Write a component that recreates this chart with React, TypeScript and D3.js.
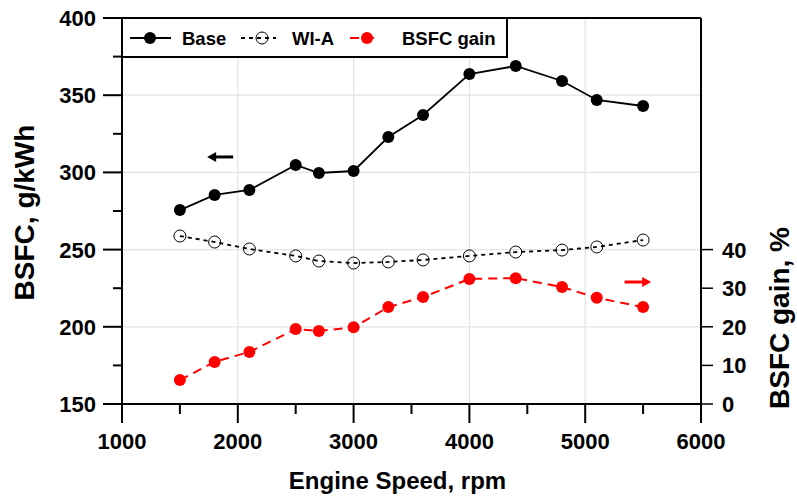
import React from "react";
import * as d3 from "d3";

const speeds = [1500, 1800, 2100, 2500, 2700, 3000, 3300, 3600, 4000, 4400, 4800, 5100, 5500];
const baseBsfc = [275.6, 285.4, 288.6, 304.8, 299.6, 300.9, 322.9, 337.2, 363.7, 368.9, 359.2, 346.9, 343.0];
const wiaBsfc = [258.8, 254.9, 250.4, 245.9, 242.6, 241.3, 242.0, 243.3, 245.9, 248.4, 249.7, 251.7, 256.2];
const bsfcGain = [6.2, 10.9, 13.5, 19.4, 18.9, 19.9, 25.1, 27.7, 32.4, 32.6, 30.3, 27.5, 25.1];

const xTicks = [1000, 2000, 3000, 4000, 5000, 6000];
const xMinor = [1500, 2500, 3500, 4500, 5500];
const yTicks = [150, 200, 250, 300, 350, 400];
const yMinor = [175, 225, 275, 325, 375];
const y2Ticks = [0, 10, 20, 30, 40];
const legendLabels = ["Base", "WI-A", "BSFC gain"];

const W = 797, H = 500;
const L = 122, R = 701, T = 18, B = 404;
const FONT = "'Liberation Sans', Arial, sans-serif";

export default function App() {
  const x = d3.scaleLinear().domain([1000, 6000]).range([L, R]);
  const y = d3.scaleLinear().domain([150, 400]).range([B, T]);
  const y2 = d3.scaleLinear().domain([0, 100]).range([B, T]);

  const baseLine = d3.line<number>().x((_, i) => x(speeds[i])).y((d) => y(d))(baseBsfc) || "";
  const wiaLine = d3.line<number>().x((_, i) => x(speeds[i])).y((d) => y(d))(wiaBsfc) || "";
  const gainLine = d3.line<number>().x((_, i) => x(speeds[i])).y((d) => y2(d))(bsfcGain) || "";

  const arrowL = { x1: x(1735), x2: x(1960), y: y(310) };
  const arrowR = { x1: x(5340), x2: x(5570), y: y2(31.6) };

  return (
    <svg width={W} height={H} style={{ display: "block", position: "absolute", left: 0, top: 0 }} fontFamily={FONT}>
      <rect width={W} height={H} fill="#fff" />
      {/* grid */}
      {xTicks.slice(1, -1).map((t) => (
        <line key={"gx" + t} x1={x(t)} x2={x(t)} y1={T} y2={B} stroke="#e3e3e3" strokeWidth={1.2} />
      ))}
      {yTicks.slice(1, -1).map((t) => (
        <line key={"gy" + t} x1={L} x2={R} y1={y(t)} y2={y(t)} stroke="#e3e3e3" strokeWidth={1.2} />
      ))}

      {/* series */}
      <path d={gainLine} fill="none" stroke="#ff0000" strokeWidth={2} strokeDasharray="9,6" />
      {speeds.map((s, i) => (
        <circle key={"g" + s} cx={x(s)} cy={y2(bsfcGain[i])} r={6} fill="#ff0000" />
      ))}
      <path d={wiaLine} fill="none" stroke="#000" strokeWidth={1.8} strokeDasharray="4,4" />
      {speeds.map((s, i) => (
        <circle key={"w" + s} cx={x(s)} cy={y(wiaBsfc[i])} r={6} fill="none" stroke="#000" strokeWidth={1} />
      ))}
      <path d={baseLine} fill="none" stroke="#000" strokeWidth={1.8} />
      {speeds.map((s, i) => (
        <circle key={"b" + s} cx={x(s)} cy={y(baseBsfc[i])} r={6} fill="#000" />
      ))}

      {/* arrows */}
      <line x1={arrowL.x1 + 6} x2={arrowL.x2} y1={arrowL.y} y2={arrowL.y} stroke="#000" strokeWidth={3} />
      <path d={`M${arrowL.x1},${arrowL.y} L${arrowL.x1 + 9},${arrowL.y - 5} L${arrowL.x1 + 9},${arrowL.y + 5} Z`} fill="#000" />
      <line x1={arrowR.x1} x2={arrowR.x2 - 6} y1={arrowR.y} y2={arrowR.y} stroke="#ff0000" strokeWidth={3} />
      <path d={`M${arrowR.x2},${arrowR.y} L${arrowR.x2 - 9},${arrowR.y - 5} L${arrowR.x2 - 9},${arrowR.y + 5} Z`} fill="#ff0000" />

      {/* frame */}
      <line x1={L} x2={R} y1={T} y2={T} stroke="#000" strokeWidth={2} />
      <line x1={R} x2={R} y1={T} y2={B} stroke="#000" strokeWidth={2} />
      <line x1={L} x2={L} y1={T} y2={B} stroke="#000" strokeWidth={2} />
      <line x1={L} x2={R} y1={B} y2={B} stroke="#000" strokeWidth={2} />

      {/* x axis */}
      {xTicks.map((t) => (
        <g key={"xt" + t}>
          <line x1={x(t)} x2={x(t)} y1={B} y2={B + 19} stroke="#000" strokeWidth={2} />
          <text x={x(t)} y={B + 45} textAnchor="middle" fontSize={22} fontWeight="bold">{t}</text>
        </g>
      ))}
      {xMinor.map((t) => (
        <line key={"xm" + t} x1={x(t)} x2={x(t)} y1={B} y2={B + 10} stroke="#000" strokeWidth={2} />
      ))}
      <text x={(L + R) / 2 - 14} y={489} textAnchor="middle" fontSize={24} fontWeight="bold">Engine Speed, rpm</text>

      {/* left axis */}
      {yTicks.map((t) => (
        <g key={"yt" + t}>
          <line x1={L - 19} x2={L} y1={y(t)} y2={y(t)} stroke="#000" strokeWidth={2} />
          <text x={L - 26} y={y(t) + 8} textAnchor="end" fontSize={22} fontWeight="bold">{t}</text>
        </g>
      ))}
      {yMinor.map((t) => (
        <line key={"ym" + t} x1={L - 9} x2={L} y1={y(t)} y2={y(t)} stroke="#000" strokeWidth={2} />
      ))}
      <text transform={`translate(34,212.5) rotate(-90)`} textAnchor="middle" fontSize={28} fontWeight="bold">BSFC, g/kWh</text>

      {/* right axis */}
      {y2Ticks.map((t) => (
        <g key={"y2t" + t}>
          <line x1={R} x2={R + 12} y1={y2(t)} y2={y2(t)} stroke="#000" strokeWidth={1.5} />
          <text x={R + 21} y={y2(t) + 8} textAnchor="start" fontSize={22} fontWeight="bold">{t}</text>
        </g>
      ))}
      <text transform={`translate(789,318) rotate(-90)`} textAnchor="middle" fontSize={28} fontWeight="bold">BSFC gain, %</text>

      {/* legend */}
      <rect x={L} y={T} width={385} height={39} fill="#fff" stroke="#000" strokeWidth={2} />
      <line x1={130} x2={171} y1={38} y2={38} stroke="#000" strokeWidth={1.8} />
      <circle cx={150} cy={38} r={6} fill="#000" />
      <text x={182} y={44.5} fontSize={18.5} fontWeight="bold">{legendLabels[0]}</text>
      <line x1={241} x2={276} y1={38} y2={38} stroke="#000" strokeWidth={1.8} strokeDasharray="4,4" />
      <circle cx={262} cy={38} r={6} fill="none" stroke="#000" strokeWidth={1} />
      <text x={292} y={44.5} fontSize={18.5} fontWeight="bold">{legendLabels[1]}</text>
      <line x1={350} x2={378} y1={38} y2={38} stroke="#ff0000" strokeWidth={2} strokeDasharray="9,6" />
      <circle cx={367} cy={38} r={6} fill="#ff0000" />
      <text x={402} y={44.5} fontSize={18.5} fontWeight="bold">{legendLabels[2]}</text>
    </svg>
  );
}
